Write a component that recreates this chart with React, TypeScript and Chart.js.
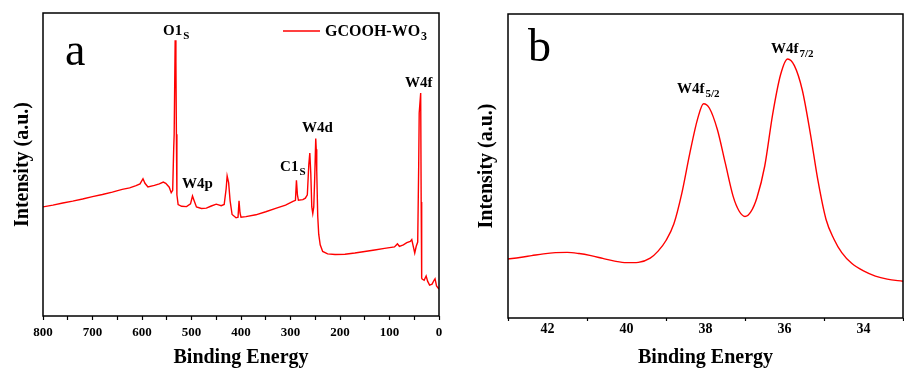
import React, { useEffect, useRef } from 'react';
import { Chart, registerables } from 'chart.js';

Chart.register(...registerables);

const FONT = '"Liberation Serif", "Times New Roman", Times, serif';

// ---- Panel a: XPS survey ----
const surveyEnergy = [
  800, 780, 760, 740, 720, 700, 680, 660, 640, 625, 612, 604, 598, 594, 588, 575, 565, 557, 552, 545,
  541, 538, 536, 535, 533, 531.5, 530.5, 529.5, 527, 520, 510, 502, 498, 495, 490, 480, 470, 460, 450, 440,
  434, 430, 428, 425, 422, 418, 410, 406, 404, 402, 400, 390, 370, 350, 330, 310, 295, 290, 288, 286,
  284, 275, 270, 266, 263, 261, 259, 257, 255, 253, 251, 249, 248, 247, 245, 243, 240, 235, 225, 210,
  190, 170, 150, 130, 110, 90, 84, 80, 72, 65, 58, 55, 52, 49, 46, 43, 41, 40, 37, 36,
  35, 34, 30, 26, 23, 19, 14, 10, 8, 5, 1, 0,
];
const surveyIntensity = [
  36.0, 36.6, 37.3, 37.9, 38.6, 39.4, 40.1, 40.9, 41.8, 42.3, 43.0, 43.6, 45.3, 43.8, 42.6, 43.1, 43.6, 44.2, 43.8, 42.5,
  40.7, 41.5, 55, 60, 91, 84, 60, 40, 36.8, 36.2, 36.1, 37.0, 39.6, 38.2, 36.0, 35.5, 35.6, 36.3, 36.9, 36.4,
  36.8, 42, 46.2, 44, 38, 33.5, 32.4, 32.6, 38.0, 34, 32.6, 32.8, 33.4, 34.4, 35.5, 36.6, 37.8, 38.2, 44.8, 40,
  38.2, 38.4, 38.9, 40, 50, 53.8, 47, 36, 33.8, 36, 46, 58.6, 55, 48, 33, 27, 23.5, 21.3, 20.5, 20.3,
  20.4, 20.8, 21.3, 21.8, 22.3, 22.8, 23.8, 23.0, 23.5, 24.2, 24.6, 25.2, 23.0, 20.8, 23.0, 24.4, 50, 67, 73.6, 37.6,
  12.5, 12.2, 11.8, 13.2, 11.5, 10.2, 10.5, 11.8, 12.3, 9.9, 9.1, 9.1,
];
const surveyTickLabels = [800, 700, 600, 500, 400, 300, 200, 100, 0];
const surveyPeakLabels = [
  { text: 'O1', sub: 'S', x: 557.6, y: 92.7 },
  { text: 'W4p', sub: '', x: 519, y: 42.2 },
  { text: 'C1', sub: 'S', x: 321, y: 47.9 },
  { text: 'W4d', sub: '', x: 276.8, y: 60.7 },
  { text: 'W4f', sub: '', x: 68.7, y: 75.6 },
];

// ---- Panel b: W4f high-resolution ----
const w4fEnergy = [
  43.0, 42.7, 42.4, 42.1, 41.8, 41.5, 41.2, 40.9, 40.6, 40.3, 40.0, 39.7, 39.4, 39.2, 39.0, 38.8, 38.6, 38.4, 38.2, 38.05,
  37.9, 37.7, 37.5, 37.3, 37.15, 37.0, 36.85, 36.7, 36.5, 36.3, 36.1, 35.92, 35.75, 35.55, 35.35, 35.15, 34.95, 34.75, 34.55, 34.3,
  34.0, 33.7, 33.4, 33.0,
];
const w4fIntensity = [
  19.4, 19.9, 20.5, 21.1, 21.5, 21.6, 21.2, 20.5, 19.6, 18.7, 18.2, 18.3, 19.7, 22.0, 25.5, 31, 41, 54, 65.5, 70.5,
  69, 62, 51, 40, 35.2, 33.4, 35, 39.5, 50, 67, 80, 85.2, 83, 75, 61, 45, 32.5, 26, 21.5, 18,
  15.5, 13.8, 12.8, 12.1,
];
const w4fTickLabels = [42, 40, 38, 36, 34];
const w4fPeakLabels = [
  { text: 'W4f', sub: '5/2', x: 38.72, y: 74.0 },
  { text: 'W4f', sub: '7/2', x: 36.34, y: 87.2 },
];

const seriesName = 'GCOOH-WO';
const seriesSub = '3';
const RED = '#ff0000';

type PanelOpts = {
  energy: number[];
  intensity: number[];
  xmin: number;
  xmax: number;
  step: number;
  tickLabels: number[];
  tickMarkFilter: (v: number) => boolean;
  peakLabels: { text: string; sub: string; x: number; y: number }[];
  letter: string;
  letterDx: number;
  letterDy: number;
  legend: boolean;
  smooth: boolean;
  padding: { left: number; top: number; right: number; bottom: number };
  yWidth: number;
  xHeight: number;
  yTitlePad: number;
  tickPad: number;
  tickLen: number;
  tickFont: number;
};

function makeConfig(p: PanelOpts): any {
  const decor = {
    id: 'decor',
    afterDraw(chart: any) {
      const { ctx, chartArea: a, scales } = chart;
      ctx.save();
      ctx.strokeStyle = '#000';
      ctx.lineWidth = 1.5;
      ctx.strokeRect(a.left, a.top, a.right - a.left, a.bottom - a.top);
      ctx.fillStyle = '#000';
      ctx.textAlign = 'left';
      ctx.textBaseline = 'alphabetic';
      ctx.font = `46px ${FONT}`;
      ctx.fillText(p.letter, a.left + p.letterDx, a.top + p.letterDy);
      for (const l of p.peakLabels) {
        const x = scales.x.getPixelForValue(l.x);
        const y = scales.y.getPixelForValue(l.y);
        ctx.font = `bold 15px ${FONT}`;
        ctx.fillText(l.text, x, y);
        if (l.sub) {
          const w = ctx.measureText(l.text).width;
          ctx.font = `bold 11px ${FONT}`;
          ctx.fillText(l.sub, x + w + 1, y + 4);
        }
      }
      if (p.legend) {
        const ly = a.top + 18;
        ctx.strokeStyle = RED;
        ctx.lineWidth = 1.4;
        ctx.beginPath();
        ctx.moveTo(a.right - 156, ly);
        ctx.lineTo(a.right - 119, ly);
        ctx.stroke();
        ctx.font = `bold 16px ${FONT}`;
        const tx = a.right - 114;
        ctx.fillText(seriesName, tx, ly + 5);
        const w = ctx.measureText(seriesName).width;
        ctx.font = `bold 12px ${FONT}`;
        ctx.fillText(seriesSub, tx + w + 1, ly + 9);
      }
      ctx.restore();
    },
  };

  return {
    type: 'line',
    data: {
      datasets: [
        {
          label: seriesName + seriesSub,
          data: p.energy.map((e, i) => ({ x: e, y: p.intensity[i] })),
          borderColor: RED,
          borderWidth: 1.4,
          pointRadius: 0,
          fill: false,
          tension: p.smooth ? 0.4 : 0,
          cubicInterpolationMode: p.smooth ? 'monotone' : 'default',
        },
      ],
    },
    options: {
      responsive: false,
      animation: false,
      layout: { padding: p.padding },
      plugins: { legend: { display: false }, tooltip: { enabled: false } },
      scales: {
        x: {
          type: 'linear',
          reverse: true,
          min: p.xmin,
          max: p.xmax,
          afterFit: (s: any) => {
            s.height = p.xHeight;
          },
          grid: {
            display: true,
            drawOnChartArea: false,
            drawTicks: true,
            tickLength: p.tickLen,
            tickWidth: 1.2,
            tickColor: (c: any) => (c.tick && p.tickMarkFilter(c.tick.value) ? '#000' : 'rgba(0,0,0,0)'),
          },
          border: { display: false },
          ticks: {
            stepSize: p.step,
            autoSkip: false,
            maxRotation: 0,
            padding: p.tickPad,
            color: '#000',
            font: { family: FONT, size: p.tickFont, weight: 'bold' },
            callback: (v: any) => (p.tickLabels.includes(Number(v)) ? String(v) : ''),
          },
          title: {
            display: true,
            text: 'Binding Energy',
            color: '#000',
            font: { family: FONT, size: 20, weight: 'bold' },
            padding: { top: 0, bottom: 2 },
          },
        },
        y: {
          min: 0,
          max: 100,
          afterFit: (s: any) => {
            s.width = p.yWidth;
          },
          grid: { display: false },
          border: { display: false },
          ticks: { display: false },
          title: {
            display: true,
            text: 'Intensity (a.u.)',
            color: '#000',
            font: { family: FONT, size: 20, weight: 'bold' },
            padding: { top: p.yTitlePad, bottom: 0 },
          },
        },
      },
    },
    plugins: [decor],
  };
}

const panelA: PanelOpts = {
  energy: surveyEnergy,
  intensity: surveyIntensity,
  xmin: 0,
  xmax: 800,
  step: 50,
  tickLabels: surveyTickLabels,
  tickMarkFilter: () => true,
  peakLabels: surveyPeakLabels,
  letter: 'a',
  letterDx: 22,
  letterDy: 52,
  legend: true,
  smooth: false,
  padding: { left: 0, top: 13, right: 13, bottom: 0 },
  yWidth: 43,
  xHeight: 56,
  yTitlePad: 11,
  tickPad: 5,
  tickLen: 4,
  tickFont: 13,
};

const panelB: PanelOpts = {
  energy: w4fEnergy,
  intensity: w4fIntensity,
  xmin: 33,
  xmax: 43,
  step: 1,
  tickLabels: w4fTickLabels,
  tickMarkFilter: (v: number) => Math.round(v) % 2 !== 0,
  peakLabels: w4fPeakLabels,
  letter: 'b',
  letterDx: 20,
  letterDy: 47,
  legend: false,
  smooth: true,
  padding: { left: 0, top: 14, right: 1, bottom: 0 },
  yWidth: 56,
  xHeight: 54,
  yTitlePad: 23,
  tickPad: 0,
  tickLen: 3,
  tickFont: 14,
};

function Panel({ opts, left }: { opts: PanelOpts; left: number }) {
  const ref = useRef<HTMLCanvasElement | null>(null);
  useEffect(() => {
    if (!ref.current) return;
    const chart = new Chart(ref.current, makeConfig(opts));
    return () => chart.destroy();
  }, [opts]);
  return (
    <canvas
      ref={ref}
      width={452}
      height={372}
      style={{ position: 'absolute', left, top: 0, width: 452, height: 372 }}
    />
  );
}

export default function App() {
  return (
    <div style={{ position: 'fixed', left: 0, top: 0, width: 904, height: 372, background: '#fff' }}>
      <Panel opts={panelA} left={0} />
      <Panel opts={panelB} left={452} />
    </div>
  );
}
